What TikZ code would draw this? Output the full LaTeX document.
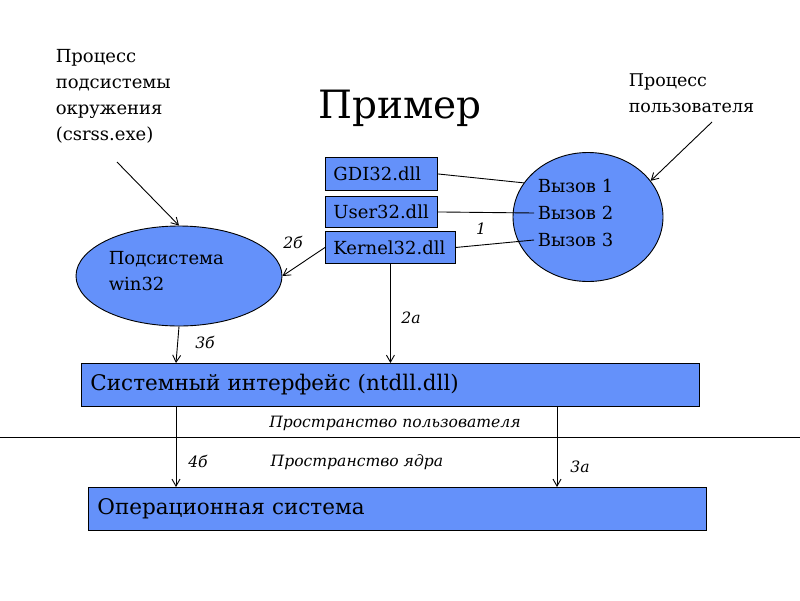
\documentclass[tikz,border=0pt]{standalone}
\usepackage{fontspec}
\setmainfont{DejaVu Serif}
\usepackage{xcolor}
\usetikzlibrary{shapes.geometric,arrows.meta}
\definecolor{boxblue}{RGB}{100,145,250}

\begin{document}
\begin{tikzpicture}[x=1pt,y=-1pt,line width=0.9pt,>={Straight Barb[length=7pt,width=8pt]},
        dll/.style={draw,fill=boxblue,anchor=north west,inner xsep=8pt,inner ysep=0pt,align=left,font=\fontsize{18}{26}\selectfont},
        bigbox/.style={draw,fill=boxblue,anchor=north west,inner xsep=9pt,inner ysep=0pt,align=left,text width=600pt,minimum height=43pt,font=\fontsize{21.5}{30}\selectfont},
        oval/.style={draw,fill=boxblue,ellipse,inner sep=0pt},
        txt/.style={align=left,font=\fontsize{18}{26}\selectfont},
        lbl/.style={font=\fontsize{15.6}{22}\selectfont\itshape}]
        \useasboundingbox (0,0) rectangle (800,600);
        \node[font=\fontsize{39}{50}\selectfont] (title) at (400,108) {Пример};
        \node[txt,anchor=west] (csrss) at (52,96) {Процесс\\подсистемы\\окружения\\(csrss.exe)};
        \node[txt,anchor=west,font=\fontsize{17.5}{26}\selectfont] (usrtxt) at (625,93) {Процесс\\пользователя};
        % user process
        \node[oval,minimum width=150pt,minimum height=129pt] (usrproc) at (588,217) {};
        \node[txt,anchor=west] (v1) at (534,186) {Вызов 1};
        \node[txt,anchor=west] (v2) at (534,213) {Вызов 2};
        \node[txt,anchor=west] (v3) at (534,240) {Вызов 3};
        % dlls
        \node[dll,text width=96pt,minimum height=33pt] (gdi) at (325,157) {GDI32.dll};
        \node[dll,text width=114pt,minimum height=31pt,text width=96pt] (usr) at (325,196) {User32.dll};
        \node[dll,text width=114pt,minimum height=32pt] (krn) at (325,231) {Kernel32.dll};
        % win32 subsystem
        \node[oval,minimum width=206pt,minimum height=100pt] (win32) at (179,276) {};
        \node[txt,anchor=west] (w32txt) at (105,271) {Подсистема\\win32};
        % layers
        \node[bigbox] (ntdll) at (81,363) {Системный интерфейс (ntdll.dll)};
        \node[bigbox] (os) at (88,487) {Операционная система};
        \draw (0,437) -- (800,437);
        \node[lbl] (usrspace) at (395,423) {Пространство пользователя};
        \node[lbl] (krnspace) at (357,462) {Пространство ядра};
        % connectors
        \coordinate (csrssend) at (117,162);
        \coordinate (usrend) at (712,122);
        \draw[->] (csrssend) -- (win32.north);
        \draw[->] (usrend) -- (usrproc.30);
        \draw (gdi.east) -- (usrproc.152);
        \draw (usr.east) -- (v2.west);
        \draw (krn.east) -- (v3.west);
        \draw[->] (krn.west) -- (win32.east);
        \draw[->] (krn.south) -- (krn.south |- ntdll.north);
        \draw[->] (win32.south) -- ([xshift=95pt]ntdll.north west);
        \draw[->] ([xshift=95pt]ntdll.south west) -- ([xshift=95pt]ntdll.south west |- os.north);
        \draw[->] ([xshift=476pt]ntdll.south west) -- ([xshift=476pt]ntdll.south west |- os.north);
        \node[lbl] (l1) at (481,229) {1};
        \node[lbl] (l2b) at (293,242) {2б};
        \node[lbl] (l2a) at (411,318) {2а};
        \node[lbl] (l3b) at (205,342) {3б};
        \node[lbl] (l4b) at (198,461) {4б};
        \node[lbl] (l3a) at (580,467) {3а};
    \end{tikzpicture}
\end{document}
